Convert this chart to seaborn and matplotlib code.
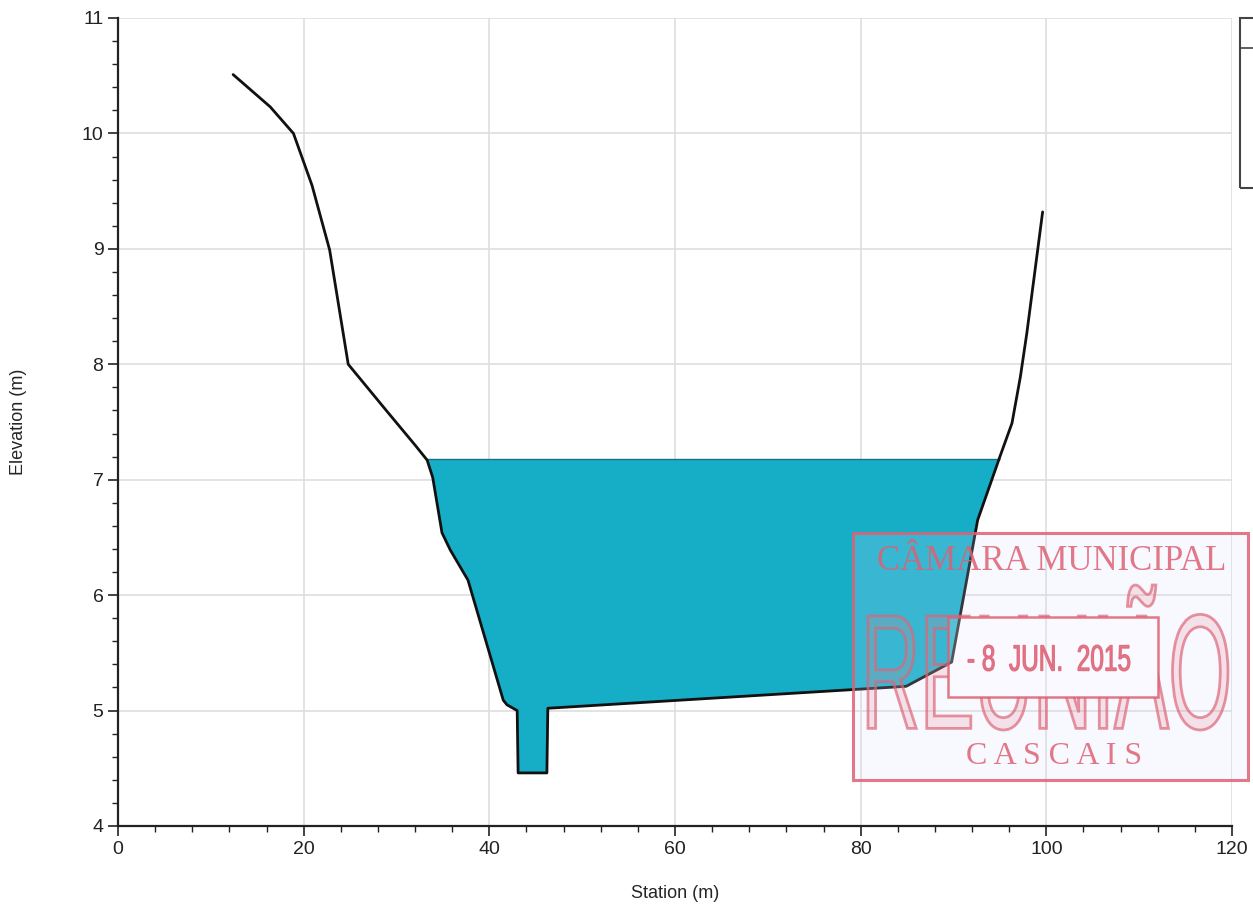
import numpy as np
import pandas as pd
import seaborn as sns
import matplotlib.pyplot as plt
from matplotlib.patches import Rectangle, PathPatch
from matplotlib.path import Path
from matplotlib.textpath import TextPath
from matplotlib.font_manager import FontProperties
from matplotlib.ticker import MultipleLocator
from matplotlib.transforms import Affine2D, IdentityTransform
from matplotlib.lines import Line2D

# Perfil transversal (estação, cota)
station = [12.4, 16.4, 18.9, 20.9, 22.8, 24.8, 29.0, 32.0, 33.3, 33.9, 34.9, 35.8,
           37.7, 41.5, 41.9, 43.0, 43.1, 46.2, 46.3, 84.9, 89.8, 92.6, 95.0,
           96.3, 97.2, 97.9, 99.6]
elevation = [10.51, 10.23, 10.0, 9.55, 8.99, 8.0, 7.59, 7.3, 7.17, 7.02, 6.54, 6.39,
             6.13, 5.09, 5.05, 5.0, 4.46, 4.46, 5.02, 5.21, 5.42, 6.65, 7.20,
             7.49, 7.89, 8.27, 9.32]
water_level = 7.18

x_ticks = [0, 20, 40, 60, 80, 100, 120]
y_ticks = [4, 5, 6, 7, 8, 9, 10, 11]

df = pd.DataFrame({"Station (m)": station, "Elevation (m)": elevation})

sns.set_style("white")
plt.rcParams["font.family"] = ["Liberation Sans", "DejaVu Sans"]

fig = plt.figure(figsize=(12.53, 9.08), dpi=100)
ax = fig.add_axes([118 / 1253, 1 - 826 / 908, (1232 - 118) / 1253, (826 - 18) / 908])

x = np.array(station)
y = np.array(elevation)
ax.fill_between(x, y, water_level, where=y <= water_level, interpolate=True,
                color="#16adc7", linewidth=0, zorder=2)
ax.hlines(water_level, 33.3, 95.0, color="#1a6f8a", lw=1.0, zorder=3)

sns.lineplot(data=df, x="Station (m)", y="Elevation (m)", sort=False,
             color="#111111", lw=2.0, ax=ax, zorder=4)

ax.set_xlim(0, 120)
ax.set_ylim(4, 11)
ax.set_xticks(x_ticks)
ax.set_yticks(y_ticks)
ax.xaxis.set_minor_locator(MultipleLocator(4))
ax.yaxis.set_minor_locator(MultipleLocator(0.2))
ax.tick_params(axis="both", which="major", direction="out", length=7, width=1.2,
               labelsize=14, colors="#222222", left=True, bottom=True)
ax.tick_params(axis="both", which="minor", direction="out", length=4, width=1.0,
               left=True, bottom=True, colors="#222222")
ax.grid(True, which="major", color="#dedede", lw=1.2)
ax.set_axisbelow(True)
for s in ["top", "right"]:
    ax.spines[s].set_visible(False)
for s in ["left", "bottom"]:
    ax.spines[s].set_color("#222222")
    ax.spines[s].set_linewidth(1.6)
ax.set_xlabel("Station (m)", fontsize=13, labelpad=20)
ax.set_ylabel("Elevation (m)", fontsize=13)
ax.yaxis.set_label_coords(-0.082, 0.5)

# caixa de legenda cortada no canto
fig.patches.append(Rectangle((1240 / 1253, 1 - 188 / 908), 0.05, (188 - 18) / 908,
                             transform=fig.transFigure, fill=False, ec="#444444",
                             lw=1.5, clip_on=False))
fig.lines.append(Line2D([1240 / 1253, 1.0], [1 - 48 / 908] * 2,
                        transform=fig.transFigure, color="#444444", lw=1.2))

# carimbo
red = (0.87, 0.38, 0.45, 0.85)
red_soft = (0.87, 0.40, 0.47, 0.7)
fx = lambda px: px / 1253
fy = lambda py: 1 - py / 908


def boxed_text(s, x0, y0, x1, y1, family, **kw):
    # texto esticado para caber numa caixa (pixels, origem no topo)
    tp = TextPath((0, 0), s, size=1, prop=FontProperties(family=family))
    bb = tp.get_extents()
    tr = (Affine2D().translate(-bb.x0, -bb.y0)
          .scale((x1 - x0) / bb.width, (y1 - y0) / bb.height)
          .translate(x0, 908 - y1))
    p = PathPatch(tr.transform_path(tp), transform=IdentityTransform(), **kw)
    fig.patches.append(p)
    return p


fig.patches.append(Rectangle((fx(853), fy(780)), fx(1248) - fx(853), fy(533) - fy(780),
                             transform=fig.transFigure, facecolor=(0.85, 0.88, 1.0, 0.18),
                             edgecolor=red, lw=2.2, zorder=10))

big = boxed_text("REUNIÃO", 868, 585, 1228, 730, "Liberation Sans",
                 facecolor=(0.9, 0.5, 0.55, 0.2), edgecolor=red_soft, lw=2.0, zorder=11)
# recorta as letras grandes fora da caixa da data
outer = [(853, 128), (1248, 128), (1248, 375), (853, 375), (853, 128)]
inner = [(948, 211), (948, 291), (1158, 291), (1158, 211), (948, 211)]
codes = [Path.MOVETO] + [Path.LINETO] * 3 + [Path.CLOSEPOLY]
clip = Path(outer + inner, codes + codes)
big.set_clip_path(clip, IdentityTransform())

fig.patches.append(Rectangle((fx(948), fy(697)), fx(1158) - fx(948), fy(617) - fy(697),
                             transform=fig.transFigure, facecolor=(1, 1, 1, 0.15),
                             edgecolor=red, lw=1.8, zorder=12))
boxed_text("- 8  JUN.  2015", 968, 645, 1130, 671, "Liberation Sans",
           facecolor=red, edgecolor=red, lw=0.8, zorder=13)

fig.text(fx(1052), fy(561), "CÂMARA MUNICIPAL", color=red, fontsize=25,
         family="Liberation Serif", ha="center", va="center", zorder=13)
fig.text(fx(1054), fy(757), "C A S C A I S", color=red, fontsize=23,
         family="Liberation Serif", ha="center", va="center", zorder=13)

fig.savefig("out.png", dpi=100, facecolor="white")
